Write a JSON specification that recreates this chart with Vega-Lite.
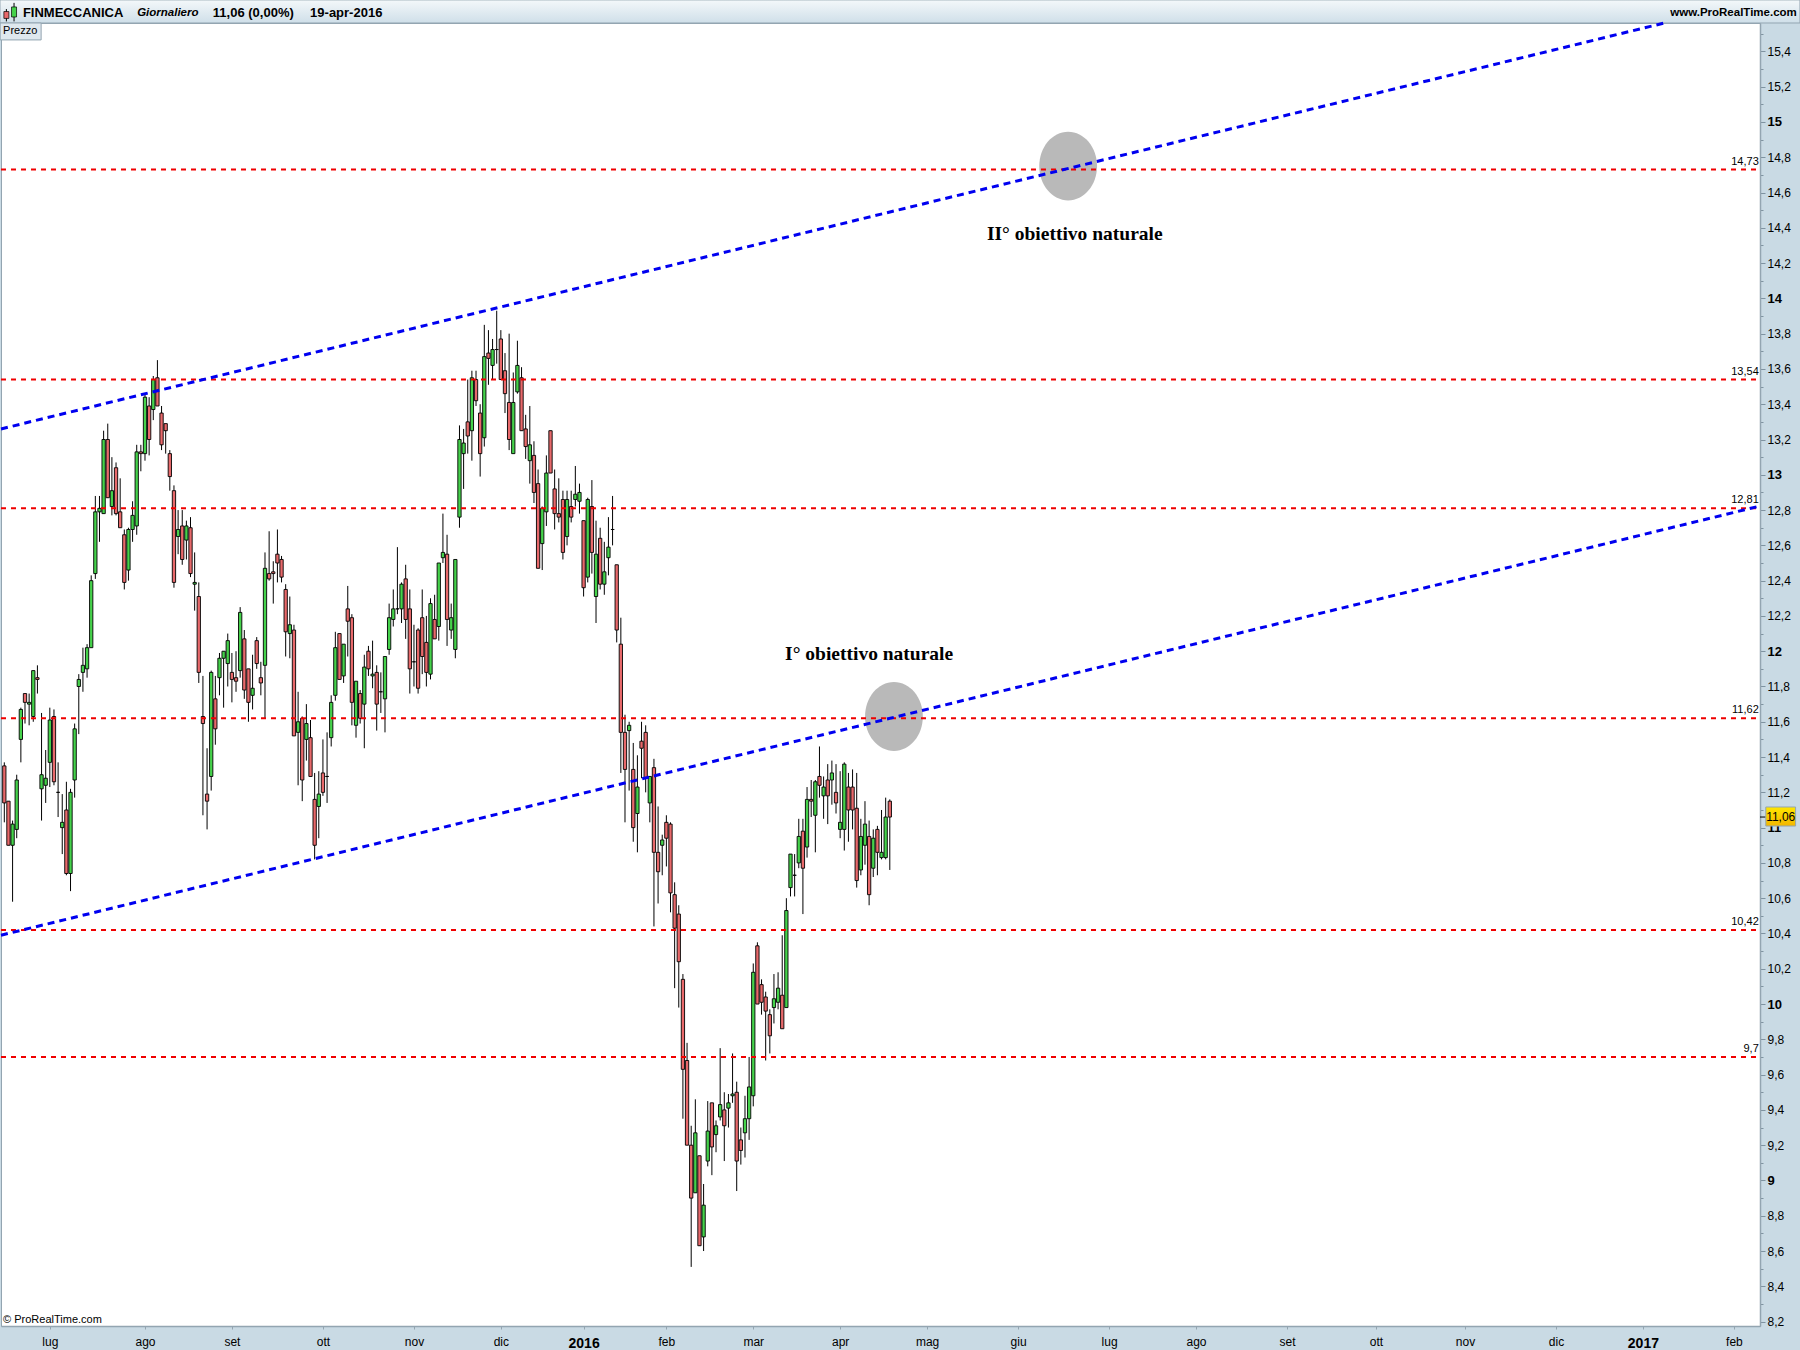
{"$schema":"https://vega.github.io/schema/vega-lite/v6.json","autosize":{"type":"none"},"padding":{"left":1,"top":23,"right":40,"bottom":24},"width":1759,"height":1303,"background":"#c9dae4","view":{"fill":"white","stroke":"#93a5b1","strokeWidth":1},
"datasets":{"candles":[
{"bar":0,"open":11.35,"high":11.37,"low":11.03,"close":11.14},
{"bar":1,"open":11.15,"high":11.15,"low":10.90,"close":10.90},
{"bar":2,"open":10.90,"high":11.04,"low":10.58,"close":11.02},
{"bar":3,"open":10.99,"high":11.30,"low":10.94,"close":11.27},
{"bar":4,"open":11.50,"high":11.68,"low":11.37,"close":11.67},
{"bar":5,"open":11.76,"high":11.76,"low":11.59,"close":11.71},
{"bar":6,"open":11.70,"high":11.76,"low":11.58,"close":11.71},
{"bar":7,"open":11.63,"high":11.89,"low":11.60,"close":11.89},
{"bar":8,"open":11.85,"high":11.92,"low":11.76,"close":11.84},
{"bar":9,"open":11.22,"high":11.65,"low":11.04,"close":11.30},
{"bar":10,"open":11.24,"high":11.44,"low":11.14,"close":11.28},
{"bar":11,"open":11.37,"high":11.68,"low":11.23,"close":11.61},
{"bar":12,"open":11.63,"high":11.67,"low":11.24,"close":11.26},
{"bar":13,"open":11.20,"high":11.37,"low":11.06,"close":11.20},
{"bar":14,"open":11.00,"high":11.19,"low":10.85,"close":11.03},
{"bar":15,"open":11.10,"high":11.26,"low":10.73,"close":10.74},
{"bar":16,"open":10.74,"high":11.22,"low":10.64,"close":11.20},
{"bar":17,"open":11.27,"high":11.59,"low":11.17,"close":11.56},
{"bar":18,"open":11.80,"high":11.87,"low":11.53,"close":11.84},
{"bar":19,"open":11.88,"high":12.02,"low":11.77,"close":11.92},
{"bar":20,"open":11.90,"high":12.04,"low":11.85,"close":12.02},
{"bar":21,"open":12.02,"high":12.43,"low":12.02,"close":12.40},
{"bar":22,"open":12.44,"high":12.88,"low":12.41,"close":12.79},
{"bar":23,"open":12.79,"high":12.88,"low":12.62,"close":12.81},
{"bar":24,"open":12.78,"high":13.25,"low":12.78,"close":13.20},
{"bar":25,"open":13.20,"high":13.29,"low":12.87,"close":12.87},
{"bar":26,"open":12.82,"high":13.10,"low":12.77,"close":12.91},
{"bar":27,"open":13.04,"high":13.07,"low":12.77,"close":12.78},
{"bar":28,"open":12.79,"high":12.98,"low":12.70,"close":12.70},
{"bar":29,"open":12.66,"high":12.69,"low":12.35,"close":12.39},
{"bar":30,"open":12.46,"high":12.70,"low":12.40,"close":12.69},
{"bar":31,"open":12.69,"high":12.85,"low":12.62,"close":12.77},
{"bar":32,"open":12.71,"high":13.17,"low":12.66,"close":13.13},
{"bar":33,"open":13.13,"high":13.17,"low":13.02,"close":13.12},
{"bar":34,"open":13.12,"high":13.46,"low":13.08,"close":13.44},
{"bar":35,"open":13.39,"high":13.44,"low":13.11,"close":13.20},
{"bar":36,"open":13.37,"high":13.56,"low":13.31,"close":13.54},
{"bar":37,"open":13.55,"high":13.65,"low":13.39,"close":13.39},
{"bar":38,"open":13.35,"high":13.39,"low":13.14,"close":13.17},
{"bar":39,"open":13.29,"high":13.29,"low":13.12,"close":13.25},
{"bar":40,"open":13.12,"high":13.14,"low":12.91,"close":12.99},
{"bar":41,"open":12.91,"high":12.94,"low":12.36,"close":12.39},
{"bar":42,"open":12.65,"high":12.80,"low":12.55,"close":12.69},
{"bar":43,"open":12.71,"high":12.80,"low":12.49,"close":12.52},
{"bar":44,"open":12.63,"high":12.74,"low":12.52,"close":12.71},
{"bar":45,"open":12.70,"high":12.76,"low":12.42,"close":12.44},
{"bar":46,"open":12.38,"high":12.56,"low":12.23,"close":12.39},
{"bar":47,"open":12.31,"high":12.39,"low":11.82,"close":11.88},
{"bar":48,"open":11.63,"high":11.86,"low":11.07,"close":11.59},
{"bar":49,"open":11.19,"high":11.45,"low":10.99,"close":11.15},
{"bar":50,"open":11.29,"high":11.89,"low":11.21,"close":11.88},
{"bar":51,"open":11.73,"high":11.86,"low":11.47,"close":11.56},
{"bar":52,"open":11.85,"high":11.99,"low":11.75,"close":11.96},
{"bar":53,"open":11.96,"high":12.00,"low":11.68,"close":12.00},
{"bar":54,"open":11.93,"high":12.10,"low":11.80,"close":12.06},
{"bar":55,"open":11.88,"high":11.99,"low":11.71,"close":11.84},
{"bar":56,"open":11.85,"high":12.00,"low":11.77,"close":11.83},
{"bar":57,"open":11.89,"high":12.25,"low":11.85,"close":12.22},
{"bar":58,"open":12.07,"high":12.12,"low":11.73,"close":11.78},
{"bar":59,"open":11.90,"high":11.90,"low":11.60,"close":11.71},
{"bar":60,"open":11.75,"high":11.98,"low":11.67,"close":11.79},
{"bar":61,"open":12.06,"high":12.08,"low":11.90,"close":11.93},
{"bar":62,"open":11.85,"high":11.94,"low":11.75,"close":11.82},
{"bar":63,"open":11.92,"high":12.56,"low":11.62,"close":12.47},
{"bar":64,"open":12.44,"high":12.68,"low":12.40,"close":12.41},
{"bar":65,"open":12.45,"high":12.51,"low":12.27,"close":12.44},
{"bar":66,"open":12.55,"high":12.69,"low":12.39,"close":12.50},
{"bar":67,"open":12.52,"high":12.54,"low":12.39,"close":12.42},
{"bar":68,"open":12.35,"high":12.38,"low":11.97,"close":12.11},
{"bar":69,"open":12.10,"high":12.31,"low":11.96,"close":12.15},
{"bar":70,"open":12.12,"high":12.15,"low":11.52,"close":11.52},
{"bar":71,"open":11.54,"high":11.77,"low":11.24,"close":11.60},
{"bar":72,"open":11.62,"high":11.63,"low":11.15,"close":11.27},
{"bar":73,"open":11.50,"high":11.70,"low":11.38,"close":11.59},
{"bar":74,"open":11.51,"high":11.61,"low":11.29,"close":11.29},
{"bar":75,"open":11.16,"high":11.31,"low":10.82,"close":10.90},
{"bar":76,"open":11.12,"high":11.32,"low":10.94,"close":11.19},
{"bar":77,"open":11.31,"high":11.50,"low":11.18,"close":11.20},
{"bar":78,"open":11.29,"high":11.54,"low":11.14,"close":11.29},
{"bar":79,"open":11.51,"high":11.75,"low":11.46,"close":11.71},
{"bar":80,"open":11.75,"high":12.11,"low":11.72,"close":12.02},
{"bar":81,"open":12.10,"high":12.10,"low":11.84,"close":11.84},
{"bar":82,"open":11.86,"high":12.04,"low":11.82,"close":12.04},
{"bar":83,"open":12.24,"high":12.37,"low":11.97,"close":12.17},
{"bar":84,"open":12.19,"high":12.21,"low":11.58,"close":11.71},
{"bar":85,"open":11.58,"high":11.83,"low":11.51,"close":11.83},
{"bar":86,"open":11.76,"high":11.78,"low":11.59,"close":11.62},
{"bar":87,"open":11.70,"high":11.98,"low":11.45,"close":11.91},
{"bar":88,"open":12.00,"high":12.03,"low":11.86,"close":11.90},
{"bar":89,"open":11.86,"high":12.06,"low":11.79,"close":11.87},
{"bar":90,"open":11.88,"high":11.92,"low":11.55,"close":11.70},
{"bar":91,"open":11.77,"high":11.88,"low":11.65,"close":11.77},
{"bar":92,"open":11.73,"high":11.97,"low":11.54,"close":11.97},
{"bar":93,"open":12.01,"high":12.27,"low":11.98,"close":12.19},
{"bar":94,"open":12.18,"high":12.35,"low":12.14,"close":12.24},
{"bar":95,"open":12.24,"high":12.59,"low":12.21,"close":12.24},
{"bar":96,"open":12.24,"high":12.39,"low":12.16,"close":12.38},
{"bar":97,"open":12.41,"high":12.49,"low":12.07,"close":12.18},
{"bar":98,"open":12.24,"high":12.35,"low":11.76,"close":11.90},
{"bar":99,"open":11.94,"high":12.15,"low":11.80,"close":11.94},
{"bar":100,"open":12.12,"high":12.13,"low":11.76,"close":11.79},
{"bar":101,"open":12.19,"high":12.35,"low":11.87,"close":11.97},
{"bar":102,"open":12.05,"high":12.20,"low":11.80,"close":11.88},
{"bar":103,"open":11.87,"high":12.30,"low":11.84,"close":12.27},
{"bar":104,"open":12.18,"high":12.32,"low":12.07,"close":12.07},
{"bar":105,"open":12.14,"high":12.50,"low":12.06,"close":12.50},
{"bar":106,"open":12.53,"high":12.78,"low":12.50,"close":12.56},
{"bar":107,"open":12.55,"high":12.66,"low":12.03,"close":12.18},
{"bar":108,"open":12.12,"high":12.27,"low":12.07,"close":12.19},
{"bar":109,"open":12.01,"high":12.52,"low":11.96,"close":12.52},
{"bar":110,"open":12.76,"high":13.28,"low":12.70,"close":13.20},
{"bar":111,"open":13.12,"high":13.26,"low":12.92,"close":13.18},
{"bar":112,"open":13.30,"high":13.54,"low":13.12,"close":13.22},
{"bar":113,"open":13.25,"high":13.59,"low":13.08,"close":13.55},
{"bar":114,"open":13.54,"high":13.59,"low":13.39,"close":13.42},
{"bar":115,"open":13.35,"high":13.40,"low":12.99,"close":13.12},
{"bar":116,"open":13.21,"high":13.85,"low":13.16,"close":13.67},
{"bar":117,"open":13.69,"high":13.82,"low":13.51,"close":13.66},
{"bar":118,"open":13.62,"high":13.77,"low":13.54,"close":13.71},
{"bar":119,"open":13.71,"high":13.93,"low":13.63,"close":13.71},
{"bar":120,"open":13.77,"high":13.82,"low":13.54,"close":13.54},
{"bar":121,"open":13.59,"high":13.69,"low":13.35,"close":13.46},
{"bar":122,"open":13.41,"high":13.80,"low":13.14,"close":13.20},
{"bar":123,"open":13.12,"high":13.58,"low":13.12,"close":13.41},
{"bar":124,"open":13.47,"high":13.76,"low":13.46,"close":13.62},
{"bar":125,"open":13.55,"high":13.61,"low":13.25,"close":13.25},
{"bar":126,"open":13.26,"high":13.34,"low":13.09,"close":13.16},
{"bar":127,"open":13.08,"high":13.39,"low":12.95,"close":13.17},
{"bar":128,"open":13.11,"high":13.19,"low":12.84,"close":12.90},
{"bar":129,"open":12.95,"high":13.03,"low":12.47,"close":12.47},
{"bar":130,"open":12.61,"high":12.82,"low":12.46,"close":12.81},
{"bar":131,"open":12.79,"high":13.11,"low":12.71,"close":13.01},
{"bar":132,"open":13.25,"high":13.25,"low":13.01,"close":13.01},
{"bar":133,"open":12.92,"high":13.03,"low":12.69,"close":12.78},
{"bar":134,"open":12.78,"high":12.98,"low":12.73,"close":12.76},
{"bar":135,"open":12.86,"high":12.91,"low":12.52,"close":12.56},
{"bar":136,"open":12.65,"high":12.91,"low":12.60,"close":12.86},
{"bar":137,"open":12.82,"high":12.91,"low":12.73,"close":12.76},
{"bar":138,"open":12.86,"high":13.05,"low":12.82,"close":12.89},
{"bar":139,"open":12.85,"high":12.95,"low":12.78,"close":12.90},
{"bar":140,"open":12.74,"high":12.74,"low":12.31,"close":12.36},
{"bar":141,"open":12.42,"high":12.87,"low":12.39,"close":12.86},
{"bar":142,"open":12.82,"high":12.97,"low":12.44,"close":12.56},
{"bar":143,"open":12.31,"high":12.74,"low":12.16,"close":12.55},
{"bar":144,"open":12.64,"high":12.70,"low":12.35,"close":12.38},
{"bar":145,"open":12.38,"high":12.62,"low":12.32,"close":12.45},
{"bar":146,"open":12.53,"high":12.76,"low":12.43,"close":12.59},
{"bar":147,"open":12.69,"high":12.88,"low":12.60,"close":12.69},
{"bar":148,"open":12.49,"high":12.49,"low":12.05,"close":12.12},
{"bar":149,"open":12.04,"high":12.19,"low":11.31,"close":11.54},
{"bar":150,"open":11.54,"high":11.64,"low":11.03,"close":11.33},
{"bar":151,"open":11.55,"high":11.60,"low":11.21,"close":11.58},
{"bar":152,"open":11.33,"high":11.48,"low":10.92,"close":11.00},
{"bar":153,"open":11.08,"high":11.41,"low":10.86,"close":11.23},
{"bar":154,"open":11.49,"high":11.60,"low":11.28,"close":11.45},
{"bar":155,"open":11.54,"high":11.58,"low":11.20,"close":11.28},
{"bar":156,"open":11.14,"high":11.29,"low":11.03,"close":11.29},
{"bar":157,"open":11.34,"high":11.39,"low":10.44,"close":10.86},
{"bar":158,"open":10.86,"high":11.12,"low":10.57,"close":10.75},
{"bar":159,"open":10.90,"high":10.96,"low":10.73,"close":10.93},
{"bar":160,"open":11.03,"high":11.07,"low":10.78,"close":10.94},
{"bar":161,"open":11.02,"high":11.03,"low":10.52,"close":10.63},
{"bar":162,"open":10.62,"high":10.69,"low":10.09,"close":10.43},
{"bar":163,"open":10.51,"high":10.56,"low":9.98,"close":10.24},
{"bar":164,"open":10.14,"high":10.17,"low":9.35,"close":9.63},
{"bar":165,"open":9.68,"high":9.78,"low":9.20,"close":9.20},
{"bar":166,"open":9.20,"high":9.31,"low":8.51,"close":8.90},
{"bar":167,"open":8.93,"high":9.46,"low":8.93,"close":9.27},
{"bar":168,"open":9.14,"high":9.14,"low":8.63,"close":8.63},
{"bar":169,"open":8.68,"high":8.98,"low":8.60,"close":8.86},
{"bar":170,"open":9.11,"high":9.45,"low":9.08,"close":9.28},
{"bar":171,"open":9.44,"high":9.44,"low":9.03,"close":9.19},
{"bar":172,"open":9.26,"high":9.34,"low":9.16,"close":9.31},
{"bar":173,"open":9.36,"high":9.75,"low":9.34,"close":9.43},
{"bar":174,"open":9.40,"high":9.50,"low":9.11,"close":9.31},
{"bar":175,"open":9.41,"high":9.49,"low":9.30,"close":9.44},
{"bar":176,"open":9.48,"high":9.72,"low":9.44,"close":9.49},
{"bar":177,"open":9.50,"high":9.56,"low":8.94,"close":9.11},
{"bar":178,"open":9.23,"high":9.30,"low":9.09,"close":9.17},
{"bar":179,"open":9.27,"high":9.48,"low":9.13,"close":9.35},
{"bar":180,"open":9.35,"high":9.70,"low":9.23,"close":9.53},
{"bar":181,"open":9.48,"high":10.23,"low":9.42,"close":10.18},
{"bar":182,"open":10.33,"high":10.35,"low":10.00,"close":10.00},
{"bar":183,"open":10.11,"high":10.14,"low":9.94,"close":10.01},
{"bar":184,"open":10.04,"high":10.07,"low":9.68,"close":9.96},
{"bar":185,"open":9.94,"high":9.97,"low":9.72,"close":9.82},
{"bar":186,"open":9.98,"high":10.17,"low":9.89,"close":10.03},
{"bar":187,"open":10.01,"high":10.18,"low":9.97,"close":10.09},
{"bar":188,"open":10.05,"high":10.39,"low":9.86,"close":9.86},
{"bar":189,"open":9.98,"high":10.60,"low":9.98,"close":10.53},
{"bar":190,"open":10.66,"high":10.85,"low":10.61,"close":10.85},
{"bar":191,"open":10.73,"high":10.85,"low":10.61,"close":10.73},
{"bar":192,"open":10.80,"high":11.05,"low":10.77,"close":10.95},
{"bar":193,"open":10.98,"high":11.05,"low":10.51,"close":10.77},
{"bar":194,"open":10.89,"high":11.23,"low":10.83,"close":11.16},
{"bar":195,"open":11.16,"high":11.27,"low":11.06,"close":11.15},
{"bar":196,"open":11.07,"high":11.27,"low":10.86,"close":11.26},
{"bar":197,"open":11.29,"high":11.46,"low":11.17,"close":11.24},
{"bar":198,"open":11.18,"high":11.29,"low":11.05,"close":11.23},
{"bar":199,"open":11.27,"high":11.36,"low":11.02,"close":11.18},
{"bar":200,"open":11.27,"high":11.38,"low":11.13,"close":11.31},
{"bar":201,"open":11.20,"high":11.36,"low":11.08,"close":11.14},
{"bar":202,"open":10.99,"high":11.32,"low":10.94,"close":11.03},
{"bar":203,"open":10.99,"high":11.37,"low":10.87,"close":11.36},
{"bar":204,"open":11.23,"high":11.31,"low":10.92,"close":11.10},
{"bar":205,"open":11.23,"high":11.33,"low":10.99,"close":11.10},
{"bar":206,"open":11.11,"high":11.31,"low":10.66,"close":10.70},
{"bar":207,"open":10.76,"high":11.05,"low":10.73,"close":10.95},
{"bar":208,"open":10.90,"high":11.15,"low":10.79,"close":11.02},
{"bar":209,"open":10.95,"high":11.04,"low":10.56,"close":10.62},
{"bar":210,"open":10.77,"high":10.99,"low":10.72,"close":10.94},
{"bar":211,"open":10.99,"high":11.01,"low":10.73,"close":10.86},
{"bar":212,"open":10.83,"high":11.10,"low":10.82,"close":10.86},
{"bar":213,"open":10.83,"high":11.17,"low":10.82,"close":11.06},
{"bar":214,"open":11.15,"high":11.16,"low":10.76,"close":11.06}
],
"levels":[
{"bar":-0.8,"bar2":423.4,"price":14.73},
{"bar":-0.8,"bar2":423.4,"price":13.54},
{"bar":-0.8,"bar2":423.4,"price":12.81},
{"bar":-0.8,"bar2":423.4,"price":11.62},
{"bar":-0.8,"bar2":423.4,"price":10.42},
{"bar":-0.8,"bar2":423.4,"price":9.7}
],
"levelLabels":[
{"bar":424,"price":14.73,"label":"14,73"},
{"bar":424,"price":13.54,"label":"13,54"},
{"bar":424,"price":12.81,"label":"12,81"},
{"bar":424,"price":11.62,"label":"11,62"},
{"bar":424,"price":10.42,"label":"10,42"},
{"bar":424,"price":9.7,"label":"9,7"}
],
"trend":[
{"bar":-0.8,"price":13.26,"trendline":"upper"},{"bar":401,"price":15.56,"trendline":"upper"},
{"bar":-0.8,"price":10.39,"trendline":"lower"},{"bar":423.8,"price":12.82,"trendline":"lower"}
]},
"encoding":{
"x":{"field":"bar","type":"quantitative","title":null,"scale":{"domain":[-0.8,424.3],"nice":false,"zero":false,"padding":0},
"axis":{"values":[11,34,55,77,99,120,140,160,181,202,223,245,267,288,310,331.5,353,375,396,418],"labelExpr":"{'11':'lug','34':'ago','55':'set','77':'ott','99':'nov','120':'dic','140':'2016','160':'feb','181':'mar','202':'apr','223':'mag','245':'giu','267':'lug','288':'ago','310':'set','331.5':'ott','353':'nov','375':'dic','396':'2017','418':'feb'}[''+datum.value]","grid":false,"domainColor":"#93a5b1","domainWidth":1.5,"tickColor":"#93a5b1","tickSize":3,"labelPadding":7,"labelColor":"#000","labelFont":"Liberation Sans","labelFontSize":{"condition":{"test":"datum.value==140||datum.value==396","value":14},"value":12},"labelOverlap":false,"labelFontWeight":{"condition":{"test":"datum.value==140||datum.value==396","value":"bold"},"value":"normal"}}},
"y":{"field":"price","type":"quantitative","title":null,"scale":{"domain":[8.175,15.561],"nice":false,"zero":false,"padding":0},
"axis":{"orient":"right","values":[8.2,8.3,8.4,8.5,8.6,8.7,8.8,8.9,9,9.1,9.2,9.3,9.4,9.5,9.6,9.7,9.8,9.9,10,10.1,10.2,10.3,10.4,10.5,10.6,10.7,10.8,10.9,11,11.1,11.2,11.3,11.4,11.5,11.6,11.7,11.8,11.9,12,12.1,12.2,12.3,12.4,12.5,12.6,12.7,12.8,12.9,13,13.1,13.2,13.3,13.4,13.5,13.6,13.7,13.8,13.9,14,14.1,14.2,14.3,14.4,14.5,14.6,14.7,14.8,14.9,15,15.1,15.2,15.3,15.4,15.5],"labelExpr":"round(datum.value*10)%2==1 ? '' : (round(datum.value*10)%10==0 ? format(datum.value,'.0f') : replace(format(datum.value,'.1f'),'.',','))","grid":false,"domainColor":"#93a5b1","domainWidth":1.5,"tickColor":"#7f93a1","tickSize":{"condition":{"test":"round(datum.value*10)%2==1","value":3},"value":5},"labelPadding":2,"labelColor":"#000","labelFont":"Liberation Sans","labelFontSize":{"condition":{"test":"round(datum.value*10)%10==0","value":13},"value":12},"labelOverlap":false,"labelFontWeight":{"condition":{"test":"round(datum.value*10)%10==0","value":"bold"},"value":"normal"}}}
},
"layer":[
{"data":{"values":[{"bar":-1.05,"bar2":433.96,"price":15.561,"price2":15.692}]},"mark":{"type":"rect","clip":false,"fill":{"gradient":"linear","x1":0,"y1":0,"x2":0,"y2":1,"stops":[{"offset":0,"color":"#f4f8fa"},{"offset":1,"color":"#cfdfe9"}]},"stroke":"#93a5b1","strokeWidth":1},"encoding":{"x2":{"field":"bar2"},"y2":{"field":"price2"}}},
{"data":{"values":[{"bar":-1.0,"bar2":8.9,"price":15.561,"price2":15.465}]},"mark":{"type":"rect","clip":false,"fill":"#dfe8ee","stroke":"#93a5b1","strokeWidth":1},"encoding":{"x2":{"field":"bar2"},"y2":{"field":"price2"}}},
{"data":{"name":"candles"},"mark":{"type":"rule","color":"#000","strokeWidth":1},"encoding":{"y":{"field":"high","type":"quantitative","title":null},"y2":{"field":"low"}}},
{"data":{"name":"candles"},"mark":{"type":"bar","orient":"vertical","size":3.3,"stroke":"#000","strokeWidth":0.9},"encoding":{"y":{"field":"open","type":"quantitative","title":null},"y2":{"field":"close"},"color":{"condition":{"test":"datum.close>datum.open","value":"#45d24b"},"value":"#e8696b"}}},
{"data":{"values":[{"bar":215.0,"price":11.63},{"bar":257.1,"price":14.75}]},"mark":{"type":"point","filled":true,"opacity":1,"color":"#b9b9b9","size":4733,"shape":"M-0.84,0 A0.84,1 0 1 1 0.84,0 A0.84,1 0 1 1 -0.84,0 Z"}},
{"data":{"name":"levels"},"mark":{"type":"rule","color":"#f00000","strokeWidth":2,"strokeDash":[5,5]},"encoding":{"x2":{"field":"bar2"}}},
{"data":{"name":"levelLabels"},"mark":{"type":"text","align":"right","baseline":"bottom","dy":-3,"font":"Liberation Sans","fontSize":11,"color":"#000"},"encoding":{"text":{"field":"label"}}},
{"data":{"name":"trend"},"mark":{"type":"line","clip":false,"color":"#0000f0","strokeWidth":3,"strokeDash":[7,5]},"encoding":{"detail":{"field":"trendline"}}},
{"data":{"values":[{"bar":209.0,"price":11.985,"label":"I° obiettivo naturale"},{"bar":258.7,"price":14.365,"label":"II° obiettivo naturale"}]},"mark":{"type":"text","font":"Liberation Serif","fontWeight":"bold","fontSize":19.5,"color":"#000"},"encoding":{"text":{"field":"label"}}},
{"data":{"values":[{"bar":4.5,"price":15.62,"label":"FINMECCANICA"},{"bar":50.4,"price":15.62,"label":"11,06 (0,00%)"},{"bar":73.9,"price":15.62,"label":"19-apr-2016"}]},"mark":{"type":"text","align":"left","clip":false,"font":"Liberation Sans","fontWeight":"bold","fontSize":13,"color":"#000"},"encoding":{"text":{"field":"label"}}},
{"data":{"values":[{"bar":32.1,"price":15.62,"label":"Giornaliero"}]},"mark":{"type":"text","align":"left","clip":false,"font":"Liberation Sans","fontWeight":"bold","fontStyle":"italic","fontSize":11.5,"color":"#000"},"encoding":{"text":{"field":"label"}}},
{"data":{"values":[{"bar":433.2,"price":15.62,"label":"www.ProRealTime.com"}]},"mark":{"type":"text","align":"right","clip":false,"font":"Liberation Sans","fontWeight":"bold","fontSize":11.5,"color":"#000"},"encoding":{"text":{"field":"label"}}},
{"data":{"values":[{"bar":-0.3,"price":15.513,"label":"Prezzo"},{"bar":-0.3,"price":8.21,"label":"© ProRealTime.com"}]},"mark":{"type":"text","align":"left","clip":false,"font":"Liberation Sans","fontSize":11,"color":"#000"},"encoding":{"text":{"field":"label"}}},
{"data":{"values":[{"bar":0.5,"open":15.626,"high":15.64,"low":15.57,"close":15.587},{"bar":2.35,"open":15.595,"high":15.675,"low":15.57,"close":15.652}]},"mark":{"type":"rule","clip":false,"color":"#000","strokeWidth":1},"encoding":{"y":{"field":"high","type":"quantitative","title":null},"y2":{"field":"low"}}},
{"data":{"values":[{"bar":0.5,"open":15.626,"high":15.64,"low":15.57,"close":15.587},{"bar":2.35,"open":15.595,"high":15.675,"low":15.57,"close":15.652}]},"mark":{"type":"bar","orient":"vertical","clip":false,"size":5,"stroke":"#000","strokeWidth":0.7},"encoding":{"y":{"field":"open","type":"quantitative","title":null},"y2":{"field":"close"},"color":{"condition":{"test":"datum.close>datum.open","value":"#45d24b"},"value":"#e8696b"}}},
{"data":{"values":[{"bar":424.3,"bar2":425.7,"price":11.06}]},"mark":{"type":"rule","clip":false,"color":"#000","strokeWidth":1},"encoding":{"x2":{"field":"bar2"}}},
{"data":{"values":[{"bar":425.7,"bar2":432.9,"price":11.117,"price2":11.009}]},"mark":{"type":"rect","clip":false,"fill":{"gradient":"linear","x1":0,"y1":0,"x2":0,"y2":1,"stops":[{"offset":0,"color":"#ffe600"},{"offset":1,"color":"#f2b600"}]},"stroke":"#93a5b1","strokeWidth":1},"encoding":{"x2":{"field":"bar2"},"y2":{"field":"price2"}}},
{"data":{"values":[{"bar":429.3,"price":11.063,"label":"11,06"}]},"mark":{"type":"text","clip":false,"font":"Liberation Sans","fontSize":12,"color":"#000"},"encoding":{"text":{"field":"label"}}}
]}
